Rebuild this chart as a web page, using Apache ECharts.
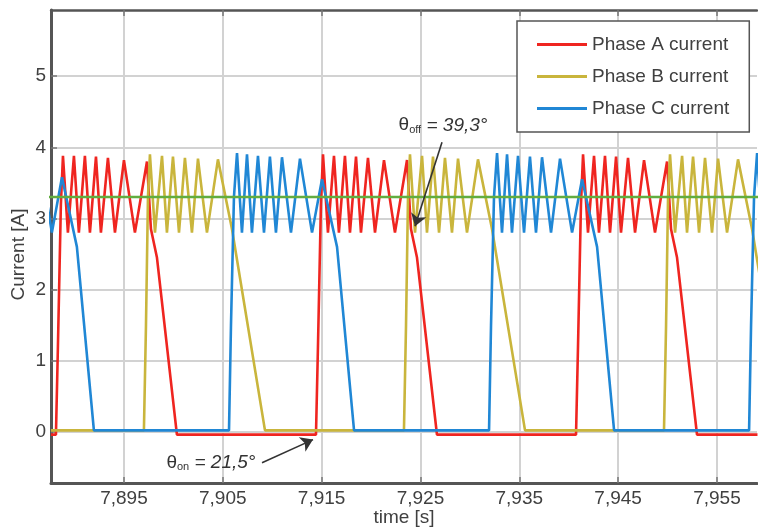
<!DOCTYPE html>
<html><head><meta charset="utf-8">
<script src="https://cdn.jsdelivr.net/npm/echarts@6/dist/echarts.min.js"></script>
<style>html,body{margin:0;padding:0;background:#fff}#c{width:758px;height:528px}</style>
</head><body><div id="c"></div>
<script>
const xTicks = [7.895, 7.905, 7.915, 7.925, 7.935, 7.945, 7.955];
const yTicks = [0, 1, 2, 3, 4, 5];
const seriesNames = ['Phase A current', 'Phase B current', 'Phase C current'];
const xName = 'time [s]';
const yName = 'Current [A]';

const phaseA = [
  [7.88761,-0.04],[7.88812,-0.04],[7.88832,1.2],[7.88862,3.2],[7.88883,3.88],[7.88933,2.8],[7.88994,3.88],[7.89044,2.8],[7.89105,3.88],[7.89156,2.8],[7.89217,3.87],[7.89267,2.8],[7.89338,3.85],[7.89409,2.8],[7.89500,3.82],[7.89611,2.8],[7.89733,3.8],[7.89773,2.85],[7.89834,2.45],[7.90036,-0.04],
  [7.91443,-0.04],[7.91463,1.2],[7.91493,3.2],[7.91514,3.9],[7.91564,2.8],[7.91625,3.88],[7.91675,2.8],[7.91736,3.88],[7.91787,2.8],[7.91848,3.87],[7.91898,2.8],[7.91969,3.85],[7.92040,2.8],[7.92131,3.82],[7.92242,2.8],[7.92364,3.82],[7.92404,2.85],[7.92465,2.45],[7.92667,-0.04],
  [7.94074,-0.04],[7.94094,1.2],[7.94124,3.2],[7.94145,3.9],[7.94195,2.8],[7.94256,3.88],[7.94306,2.8],[7.94367,3.88],[7.94418,2.8],[7.94479,3.87],[7.94529,2.8],[7.94600,3.85],[7.94671,2.8],[7.94762,3.82],[7.94873,2.8],[7.94995,3.8],[7.95035,2.85],[7.95096,2.45],[7.95298,-0.04],[7.95910,-0.04]
];
const phaseB = [
  [7.88761,0.02],[7.89702,0.02],[7.89723,1.5],[7.89743,3.3],[7.89763,3.9],[7.89814,2.8],[7.89885,3.88],[7.89935,2.8],[7.89996,3.87],[7.90057,2.8],[7.90117,3.85],[7.90188,2.8],[7.90249,3.84],[7.90340,2.8],[7.90451,3.83],[7.90593,2.85],[7.90927,0.02],
  [7.92333,0.02],[7.92354,1.5],[7.92374,3.3],[7.92394,3.9],[7.92445,2.8],[7.92516,3.88],[7.92566,2.8],[7.92627,3.87],[7.92688,2.8],[7.92748,3.85],[7.92819,2.8],[7.92880,3.84],[7.92971,2.8],[7.93082,3.83],[7.93224,2.85],[7.93558,0.02],
  [7.94964,0.02],[7.94985,1.5],[7.95005,3.3],[7.95025,3.9],[7.95076,2.8],[7.95147,3.88],[7.95197,2.8],[7.95258,3.87],[7.95319,2.8],[7.95379,3.85],[7.95450,2.8],[7.95511,3.84],[7.95602,2.8],[7.95713,3.83],[7.95855,2.85],[7.96189,0.02]
];
const phaseC = [
  [7.88650,3.84],[7.88771,2.8],[7.88873,3.58],[7.89024,2.6],[7.89196,0.02],
  [7.90563,0.02],[7.90583,1.5],[7.90613,3.3],[7.90644,3.92],[7.90694,2.8],[7.90745,3.9],[7.90795,2.8],[7.90856,3.88],[7.90917,2.8],[7.90977,3.87],[7.91038,2.8],[7.91099,3.86],[7.91190,2.8],[7.91281,3.84],[7.91403,2.8],[7.91504,3.55],[7.91656,2.6],[7.91828,0.02],
  [7.93194,0.02],[7.93214,1.5],[7.93244,3.3],[7.93275,3.92],[7.93325,2.8],[7.93376,3.9],[7.93426,2.8],[7.93487,3.88],[7.93548,2.8],[7.93608,3.87],[7.93669,2.8],[7.93730,3.86],[7.93821,2.8],[7.93912,3.84],[7.94034,2.8],[7.94135,3.55],[7.94287,2.6],[7.94459,0.02],
  [7.95825,0.02],[7.95845,1.5],[7.95875,3.3],[7.95906,3.92],[7.95956,2.8]
];
const refLevel = [[7.8870, 3.30], [7.9600, 3.30]];

// annotations (data coordinates)
const offText = [7.92728, 4.31];
const offArrow = [[7.92718, 4.07], [7.92445, 2.89]];
const onText = [7.90380, -0.435];
const onArrow = [[7.90897, -0.435], [7.91413, -0.11]];

const FONT = 'Liberation Sans, Arial, Helvetica, sans-serif';
const TXT = '#404040';
const colors = ['#ef2520', '#c9b53c', '#2087d5'];

const chart = echarts.init(document.getElementById('c'), null, {renderer: 'canvas'});
const fmtX = v => String(+(+v).toFixed(3)).replace('.', ',');

function lineSeries(name, data, color) {
  return {
    name, type: 'line', data, symbol: 'none', showSymbol: false,
    lineStyle: {color, width: 2.6}, itemStyle: {color},
    animation: false, clip: true
  };
}

const rich = {
  t: {fontFamily: FONT, fontSize: 19, color: '#333'},
  s: {fontFamily: FONT, fontSize: 11, color: '#333', padding: [9, 0, 0, 0]},
  i: {fontFamily: FONT, fontSize: 19, color: '#333', fontStyle: 'italic'}
};

chart.setOption({
  backgroundColor: '#fff',
  animation: false,
  color: colors,
  grid: {left: 51, right: 1, top: 10, bottom: 45, containLabel: false, outerBoundsMode: 'none'},
  legend: {
    data: seriesNames, orient: 'vertical', left: 517, top: 21,
    padding: [13, 20, 13, 20], itemGap: 11, itemWidth: 50, itemHeight: 3,
    icon: 'rect', backgroundColor: '#fff', borderColor: '#555', borderWidth: 1.5,
    textStyle: {fontFamily: FONT, fontSize: 19, color: TXT, lineHeight: 21}
  },
  xAxis: [{
    type: 'value', min: 7.88762, max: 7.95905,
    name: xName, nameLocation: 'middle', nameGap: 25, nameMoveOverlap: false,
    nameTextStyle: {fontFamily: FONT, fontSize: 19, color: TXT},
    axisLine: {show: true, onZero: false, lineStyle: {color: '#555', width: 3}},
    axisTick: {show: true, inside: true, length: 6, customValues: xTicks, lineStyle: {color: '#777', width: 1.5}},
    axisLabel: {show: true, customValues: xTicks, formatter: fmtX, margin: 6, fontFamily: FONT, fontSize: 19, color: TXT},
    splitLine: {show: true, lineStyle: {color: '#d2d2d2', width: 2}}
  }, {
    type: 'value', position: 'top', min: 7.88762, max: 7.95905,
    axisLine: {show: true, onZero: false, lineStyle: {color: '#555', width: 2.5}},
    axisTick: {show: true, inside: true, length: 6, customValues: xTicks, lineStyle: {color: '#777', width: 1.5}},
    axisLabel: {show: false}, splitLine: {show: false}
  }],
  yAxis: {
    type: 'value', min: -0.72, max: 5.93,
    name: yName, nameLocation: 'middle', nameGap: 23, nameMoveOverlap: false,
    nameTextStyle: {fontFamily: FONT, fontSize: 19, color: TXT, padding: [0, 16, 0, 0]},
    axisLine: {show: true, onZero: false, lineStyle: {color: '#555', width: 3}},
    axisTick: {show: true, inside: true, length: 6, customValues: yTicks, lineStyle: {color: '#777', width: 1.5}},
    axisLabel: {show: true, customValues: yTicks, margin: 5, fontFamily: FONT, fontSize: 19, color: TXT},
    splitLine: {show: true, lineStyle: {color: '#d2d2d2', width: 2}}
  },
  series: [
    lineSeries(seriesNames[0], phaseA, colors[0]),
    lineSeries(seriesNames[1], phaseB, colors[1]),
    lineSeries(seriesNames[2], phaseC, colors[2]),
    {
      name: 'level', type: 'line', data: refLevel, symbol: 'none', showSymbol: false,
      lineStyle: {color: '#62ad3f', width: 2.4}, animation: false, z: 3,
      markLine: {
        silent: true, symbol: ['none', 'arrow'], symbolSize: 12,
        lineStyle: {color: '#333', width: 1.6, type: 'solid'}, label: {show: false},
        data: [
          [{coord: offArrow[0]}, {coord: offArrow[1]}],
          [{coord: onArrow[0]}, {coord: onArrow[1]}]
        ]
      },
      markPoint: {
        silent: true, symbol: 'circle', symbolSize: 1, itemStyle: {color: 'rgba(0,0,0,0)'},
        data: [
          {coord: offText, label: {show: true, position: 'inside', formatter: '{t|θ}{s|off}{i| = 39,3°}', rich}},
          {coord: onText, label: {show: true, position: 'inside', formatter: '{t|θ}{s|on}{i| = 21,5°}', rich}}
        ]
      }
    }
  ]
});
</script>
</body></html>
